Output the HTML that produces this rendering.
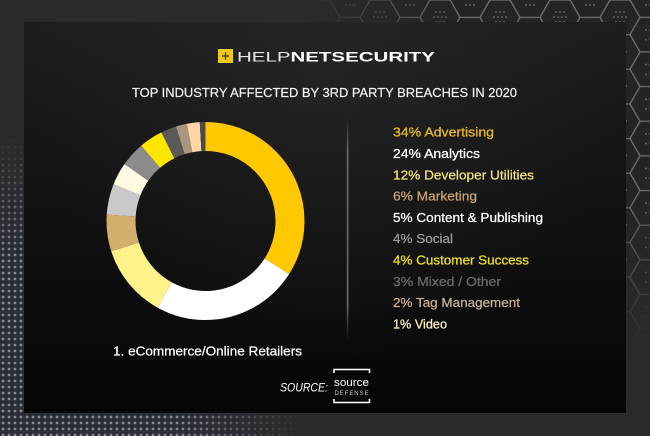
<!DOCTYPE html>
<html><head><meta charset="utf-8">
<style>
html,body{margin:0;padding:0;background:#2a2a2a;}
svg{display:block;}
text{font-family:"Liberation Sans",sans-serif;}
</style></head>
<body>
<svg width="650" height="436" viewBox="0 0 650 436" xmlns="http://www.w3.org/2000/svg">
<defs>
  <pattern id="hex" width="60" height="34.64" patternUnits="userSpaceOnUse">
    <rect width="60" height="34.64" fill="#242424"/>
    <path d="M0,17.32 L10,0 H30 L40,17.32 L30,34.64 H10 Z M40,17.32 H60" fill="none" stroke="#707070" stroke-width="1.3"/>
    <g fill="#5f636b">
      <circle cx="16" cy="12" r="1"/><circle cx="20" cy="12" r="1"/><circle cx="24" cy="12" r="1"/>
      <circle cx="14" cy="17" r="1"/><circle cx="18" cy="17" r="1"/><circle cx="22" cy="17" r="1"/><circle cx="26" cy="17" r="1"/>
      <circle cx="16" cy="22" r="1"/><circle cx="20" cy="22" r="1"/><circle cx="24" cy="22" r="1"/>
      <circle cx="46" cy="5" r="1"/><circle cx="50" cy="5" r="1"/><circle cx="54" cy="5" r="1"/>
      <circle cx="46" cy="30" r="1"/><circle cx="50" cy="30" r="1"/><circle cx="54" cy="30" r="1"/>
    </g>
  </pattern>
  <pattern id="dots" width="6" height="6" patternUnits="userSpaceOnUse">
    <rect width="6" height="6" fill="#2b2e35"/>
    <circle cx="3" cy="3" r="1.4" fill="#868a94"/>
  </pattern>
  <radialGradient id="gTR" cx="650" cy="0" r="340" gradientUnits="userSpaceOnUse">
    <stop offset="0" stop-color="#fff"/>
    <stop offset="0.55" stop-color="#fff"/>
    <stop offset="1" stop-color="#000"/>
  </radialGradient>
  <radialGradient id="gBL" cx="0" cy="436" r="300" gradientUnits="userSpaceOnUse">
    <stop offset="0" stop-color="#fff"/>
    <stop offset="0.6" stop-color="#fff"/>
    <stop offset="1" stop-color="#000"/>
  </radialGradient>
  <mask id="mTR"><rect width="650" height="436" fill="url(#gTR)"/></mask>
  <mask id="mBL"><rect width="650" height="436" fill="url(#gBL)"/></mask>
  <linearGradient id="panel" x1="0" y1="0" x2="0" y2="1">
    <stop offset="0" stop-color="#1e1e1e"/>
    <stop offset="0.45" stop-color="#121212"/>
    <stop offset="1" stop-color="#060606"/>
  </linearGradient>
  <radialGradient id="glow" cx="325" cy="60" r="300" gradientUnits="userSpaceOnUse">
    <stop offset="0" stop-color="#2a2a2a" stop-opacity="0.6"/>
    <stop offset="1" stop-color="#2a2a2a" stop-opacity="0"/>
  </radialGradient>
  <linearGradient id="div" x1="0" y1="0" x2="0" y2="1">
    <stop offset="0" stop-color="#5a5a5a" stop-opacity="0"/>
    <stop offset="0.15" stop-color="#6a6a6a"/>
    <stop offset="0.85" stop-color="#6a6a6a"/>
    <stop offset="1" stop-color="#5a5a5a" stop-opacity="0"/>
  </linearGradient>
</defs>

<!-- outer background -->
<rect width="650" height="436" fill="#2b2b2b"/>
<rect width="650" height="436" fill="url(#hex)" mask="url(#mTR)"/>
<rect width="650" height="436" fill="url(#dots)" mask="url(#mBL)"/>

<!-- panel -->
<rect x="24" y="22" width="602" height="391" fill="url(#panel)"/>
<rect x="24" y="22" width="602" height="391" fill="url(#glow)"/>

<!-- logo -->
<rect x="218" y="49" width="15" height="14" fill="#F2C81A"/>
<path d="M225.5,52.5 V59.5 M222,56 H229" stroke="#3a3000" stroke-width="1.3"/>
<text x="237" y="61.5" font-size="14" fill="#fff" textLength="198" lengthAdjust="spacingAndGlyphs"><tspan font-weight="normal" fill="#e8e8e8">HELP</tspan><tspan font-weight="bold">NETSECURITY</tspan></text>

<!-- title -->
<text x="132" y="97" font-size="13" fill="#f2f2f2" stroke="#f2f2f2" stroke-width="0.2" textLength="385" lengthAdjust="spacingAndGlyphs">TOP INDUSTRY AFFECTED BY 3RD PARTY BREACHES IN 2020</text>

<!-- donut -->
<g transform="rotate(-90 205.5 221)" fill="none" stroke-width="29">
  <circle cx="205.5" cy="221" r="84.5" stroke="#FFC800" stroke-dasharray="180.52 600" stroke-dashoffset="0"/>
  <circle cx="205.5" cy="221" r="84.5" stroke="#FFFFFF" stroke-dasharray="127.42 600" stroke-dashoffset="-180.52"/>
  <circle cx="205.5" cy="221" r="84.5" stroke="#FFF28A" stroke-dasharray="63.71 600" stroke-dashoffset="-307.94"/>
  <circle cx="205.5" cy="221" r="84.5" stroke="#D3AF6C" stroke-dasharray="31.86 600" stroke-dashoffset="-371.65"/>
  <circle cx="205.5" cy="221" r="84.5" stroke="#C9C9C9" stroke-dasharray="26.55 600" stroke-dashoffset="-403.51"/>
  <circle cx="205.5" cy="221" r="84.5" stroke="#FFFBE2" stroke-dasharray="19.76 600" stroke-dashoffset="-430.06"/>
  <circle cx="205.5" cy="221" r="84.5" stroke="#8B8B8B" stroke-dasharray="21.24 600" stroke-dashoffset="-449.82"/>
  <circle cx="205.5" cy="221" r="84.5" stroke="#FFE600" stroke-dasharray="20.65 600" stroke-dashoffset="-471.06"/>
  <circle cx="205.5" cy="221" r="84.5" stroke="#5A5A5A" stroke-dasharray="13.42 600" stroke-dashoffset="-491.71"/>
  <circle cx="205.5" cy="221" r="84.5" stroke="#A9967F" stroke-dasharray="9.59 600" stroke-dashoffset="-505.13"/>
  <circle cx="205.5" cy="221" r="84.5" stroke="#FDD5A6" stroke-dasharray="11.06 600" stroke-dashoffset="-514.72"/>
  <circle cx="205.5" cy="221" r="84.5" stroke="#4B4B4B" stroke-dasharray="5.16 600" stroke-dashoffset="-525.78"/>
</g>

<!-- divider -->
<rect x="346.8" y="117" width="1.6" height="223" fill="url(#div)"/>

<!-- legend -->
<g font-size="13" stroke-width="0.25">
  <text x="393" y="136.5" fill="#E8BA2E" stroke="#E8BA2E" textLength="101" lengthAdjust="spacingAndGlyphs">34% Advertising</text>
  <text x="393" y="158" fill="#FFFFFF" stroke="#FFFFFF" textLength="87" lengthAdjust="spacingAndGlyphs">24% Analytics</text>
  <text x="393" y="179.3" fill="#F2E07C" stroke="#F2E07C" textLength="141" lengthAdjust="spacingAndGlyphs">12% Developer Utilities</text>
  <text x="393" y="200.6" fill="#C9A472" stroke="#C9A472" textLength="84" lengthAdjust="spacingAndGlyphs">6% Marketing</text>
  <text x="393" y="221.9" fill="#FFFFFF" stroke="#FFFFFF" textLength="150" lengthAdjust="spacingAndGlyphs">5% Content &amp; Publishing</text>
  <text x="393" y="243.2" fill="#9A9A9A" stroke="#9A9A9A" textLength="60" lengthAdjust="spacingAndGlyphs">4% Social</text>
  <text x="393" y="264.5" fill="#F2E024" stroke="#F2E024" textLength="136" lengthAdjust="spacingAndGlyphs">4% Customer Success</text>
  <text x="393" y="285.8" fill="#6A6A6A" stroke="#6A6A6A" textLength="108" lengthAdjust="spacingAndGlyphs">3% Mixed / Other</text>
  <text x="393" y="307.1" fill="#C7B095" stroke="#C7B095" textLength="127" lengthAdjust="spacingAndGlyphs">2% Tag Management</text>
  <text x="393" y="328.4" fill="#FFEFC2" stroke="#FFEFC2" textLength="54" lengthAdjust="spacingAndGlyphs">1% Video</text>
</g>

<!-- footnote -->
<text x="113" y="355.5" font-size="13" fill="#FFFFFF" stroke="#FFFFFF" stroke-width="0.25" textLength="189" lengthAdjust="spacingAndGlyphs">1. eCommerce/Online Retailers</text>

<!-- source -->
<text x="280" y="391.5" font-size="12" font-style="italic" fill="#FFFFFF" textLength="48" lengthAdjust="spacingAndGlyphs">SOURCE:</text>
<path d="M334,373 V369.5 H369.5 V373 M334,399 V402.5 H369.5 V399" fill="none" stroke="#FFFFFF" stroke-width="1.6"/>
<text x="334" y="386" font-size="11" fill="#FFFFFF" textLength="35" lengthAdjust="spacingAndGlyphs">source</text>
<text x="334.5" y="395" font-size="6" fill="#cfcfcf" textLength="34" lengthAdjust="spacing">DEFENSE</text>
</svg>
</body></html>
